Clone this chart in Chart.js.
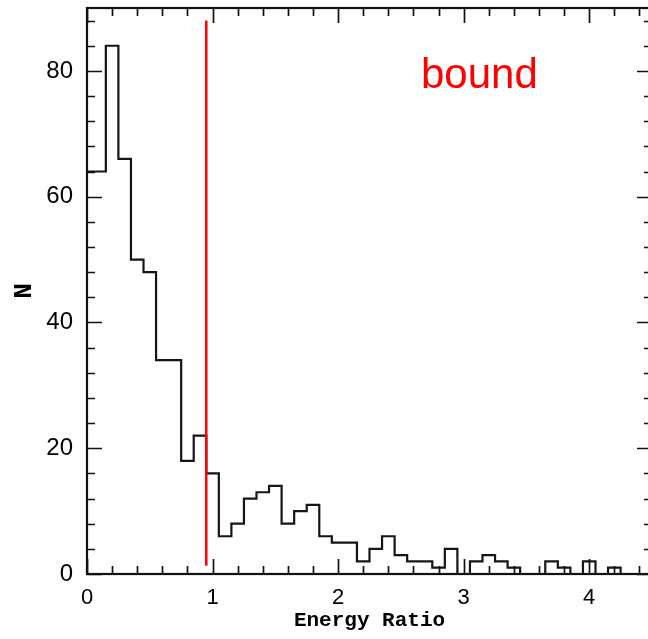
<!DOCTYPE html>
<html>
<head>
    <title>Energy Ratio Histogram</title>
    <style>
        html, body {
            margin: 0;
            padding: 0;
            background-color: #ffffff;
            overflow: hidden;
        }

        /* the plot frame runs a few pixels past the right edge of the window, as in the original */
        .chart-box {
            position: relative;
            width: 660px;
            height: 639px;
        }
    </style>
    <script src="https://cdn.jsdelivr.net/npm/chart.js@4.4.1/dist/chart.umd.min.js"></script>
</head>
<body>
    <div class="chart-box">
        <canvas id="histChart"></canvas>
    </div>

    <script>
        // histogram bins (centres, width 0.1) and counts
        const binCenters = [
            0.0, 0.1, 0.2, 0.3, 0.4, 0.5, 0.6, 0.7, 0.8, 0.9,
            1.0, 1.1, 1.2, 1.3, 1.4, 1.5, 1.6, 1.7, 1.8, 1.9,
            2.0, 2.1, 2.2, 2.3, 2.4, 2.5, 2.6, 2.7, 2.8, 2.9,
            3.0, 3.1, 3.2, 3.3, 3.4, 3.5, 3.6, 3.7, 3.8, 3.9,
            4.0, 4.1, 4.2, 4.3, 4.4
        ];
        const counts = [
            64, 64, 84, 66, 50, 48, 34, 34, 18, 22,
            16, 6, 8, 12, 13, 14, 8, 10, 11, 6,
            5, 5, 2, 4, 6, 3, 2, 2, 1, 4,
            0, 2, 3, 2, 1, 0, 0, 2, 1, 0,
            2, 0, 1, 0, 0
        ];

        // red marker line and its label
        const boundX = 0.95;
        const boundSpan = [1.3, 88];
        const boundText = 'bound';
        const boundTextPos = [2.66, 77.2];

        // axes
        const xRange = [0, 4.5];
        const yRange = [0, 90];
        const xMajorTicks = [0, 1, 2, 3, 4];
        const yMajorTicks = [0, 20, 40, 60, 80];
        const xMinorStep = 0.2;
        const yMinorStep = 4;
        const xTitle = 'Energy Ratio';
        const yTitle = 'N';

        const histPoints = binCenters.map((c, i) => ({ x: c, y: counts[i] }));
        const boundPoints = boundSpan.map(v => ({ x: boundX, y: v }));

        // box round the plot with inward ticks on all four sides, plus the label
        const frameTicks = {
            id: 'frameTicks',
            afterDatasetsDraw(chart) {
                const { ctx, chartArea: a, scales: { x, y } } = chart;
                ctx.save();
                ctx.strokeStyle = '#111111';
                ctx.lineWidth = 1.7;
                ctx.beginPath();
                for (let i = 0; i * xMinorStep <= xRange[1] + 1e-9; i++) {
                    const v = i * xMinorStep;
                    const len = Math.abs(v - Math.round(v)) < 1e-6 ? 15 : 8;
                    const px = Math.round(x.getPixelForValue(v)) + 0.5;
                    ctx.moveTo(px, a.bottom);
                    ctx.lineTo(px, a.bottom - len);
                    ctx.moveTo(px, a.top);
                    ctx.lineTo(px, a.top + len);
                }
                for (let i = 0; i * yMinorStep <= yRange[1] + 1e-9; i++) {
                    const v = i * yMinorStep;
                    const len = v % 20 === 0 ? 15 : 8;
                    const py = Math.round(y.getPixelForValue(v)) + 0.5;
                    ctx.moveTo(a.left, py);
                    ctx.lineTo(a.left + len, py);
                    ctx.moveTo(a.right, py);
                    ctx.lineTo(a.right - len, py);
                }
                ctx.stroke();

                ctx.lineWidth = 2.2;
                ctx.strokeRect(a.left, a.top, a.right - a.left, a.bottom - a.top);

                ctx.fillStyle = '#ff0000';
                ctx.font = '42px "Liberation Sans", Arial, sans-serif';
                ctx.textAlign = 'left';
                ctx.textBaseline = 'alphabetic';
                ctx.fillText(boundText, x.getPixelForValue(boundTextPos[0]), y.getPixelForValue(boundTextPos[1]));
                ctx.restore();
            }
        };

        new Chart(document.getElementById('histChart'), {
            type: 'line',
            data: {
                datasets: [
                    {
                        label: 'bound',
                        data: boundPoints,
                        borderColor: '#ff0000',
                        borderWidth: 2.5,
                        pointRadius: 0,
                        fill: false
                    },
                    {
                        label: 'N',
                        data: histPoints,
                        stepped: 'middle',
                        borderColor: '#151515',
                        borderWidth: 2.2,
                        pointRadius: 0,
                        fill: false
                    }
                ]
            },
            options: {
                responsive: true,
                maintainAspectRatio: false,
                animation: false,
                layout: {
                    padding: { top: 8, right: 8, bottom: 0, left: 0 }
                },
                plugins: {
                    legend: { display: false },
                    tooltip: { enabled: false }
                },
                scales: {
                    x: {
                        type: 'linear',
                        min: xRange[0],
                        max: xRange[1],
                        grid: { display: false, drawTicks: false },
                        border: { display: false },
                        ticks: {
                            includeBounds: false,
                            color: '#000000',
                            padding: 11,
                            maxRotation: 0,
                            autoSkip: false,
                            font: { family: '"Liberation Sans", Arial, sans-serif', size: 22 }
                        },
                        afterBuildTicks: s => { s.ticks = xMajorTicks.map(v => ({ value: v })); },
                        afterFit: s => {
                            s.height = 65;
                            s.paddingLeft = 0;
                            s.paddingRight = 0;
                        },
                        title: {
                            display: true,
                            text: xTitle,
                            color: '#000000',
                            padding: { top: 0, bottom: 6 },
                            font: { family: '"Liberation Mono", monospace', size: 21, weight: 'bold' }
                        }
                    },
                    y: {
                        min: yRange[0],
                        max: yRange[1],
                        grid: { display: false, drawTicks: false },
                        border: { display: false },
                        ticks: {
                            includeBounds: false,
                            color: '#000000',
                            padding: 14,
                            font: { family: '"Liberation Sans", Arial, sans-serif', size: 24 }
                        },
                        afterBuildTicks: s => { s.ticks = yMajorTicks.map(v => ({ value: v })); },
                        afterFit: s => {
                            s.width = 87;
                            s.paddingTop = 0;
                            s.paddingBottom = 0;
                        },
                        title: {
                            display: true,
                            text: yTitle,
                            color: '#000000',
                            padding: { top: 9, bottom: 0 },
                            font: { family: '"Liberation Mono", monospace', size: 26, weight: 'bold' }
                        }
                    }
                }
            },
            plugins: [frameTicks]
        });
    </script>
</body>
</html>
